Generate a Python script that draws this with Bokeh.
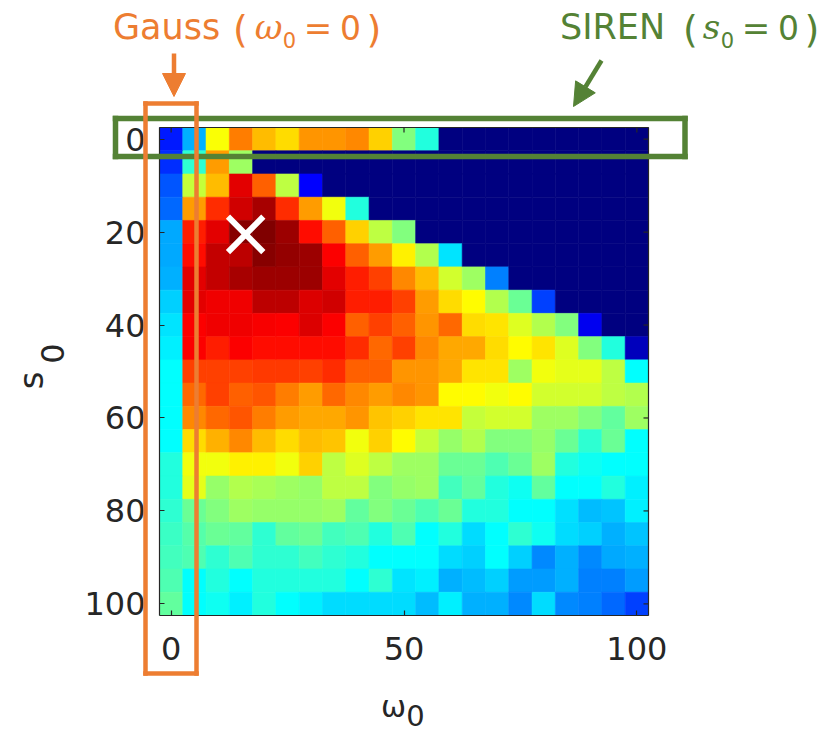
import math
from bokeh.plotting import figure
from bokeh.models import (Range1d, FixedTicker, LinearColorMapper, ColumnDataSource,
                          Label, Arrow, NormalHead, LinearAxis)
from bokeh.embed import file_html
from bokeh.resources import INLINE

# ---------------- data ----------------
omega0 = [0, 5, 10, 15, 20, 25, 30, 35, 40, 45, 50, 55, 60, 65, 70, 75, 80, 85, 90, 95, 100]
s0 = [0, 5, 10, 15, 20, 25, 30, 35, 40, 45, 50, 55, 60, 65, 70, 75, 80, 85, 90, 95, 100]

# normalised score per (s0 row, omega0 column)
acc_rows = [
    [0.15, 0.30, 0.62, 0.75, 0.69, 0.66, 0.73, 0.73, 0.74, 0.67, 0.50, 0.41, 0, 0, 0, 0, 0, 0, 0, 0, 0],
    [0.17, 0.42, 0.72, 0.53, 0, 0, 0, 0, 0, 0, 0, 0, 0, 0, 0, 0, 0, 0, 0, 0, 0],
    [0.21, 0.57, 0.69, 0.90, 0.78, 0.56, 0.125, 0, 0, 0, 0, 0, 0, 0, 0, 0, 0, 0, 0, 0, 0],
    [0.23, 0.72, 0.83, 0.92, 0.96, 0.83, 0.72, 0.61, 0.41, 0, 0, 0, 0, 0, 0, 0, 0, 0, 0, 0, 0],
    [0.29, 0.845, 0.90, 0.99, 1.00, 0.97, 0.86, 0.78, 0.67, 0.56, 0.50, 0, 0, 0, 0, 0, 0, 0, 0, 0, 0],
    [0.29, 0.86, 0.93, 0.94, 0.99, 0.98, 0.97, 0.875, 0.78, 0.72, 0.64, 0.55, 0.35, 0, 0, 0, 0, 0, 0, 0, 0],
    [0.30, 0.90, 0.93, 0.96, 0.97, 0.97, 0.97, 0.90, 0.845, 0.81, 0.74, 0.69, 0.58, 0.53, 0.25, 0, 0, 0, 0, 0, 0],
    [0.33, 0.90, 0.89, 0.89, 0.94, 0.94, 0.91, 0.92, 0.845, 0.845, 0.81, 0.72, 0.66, 0.625, 0.55, 0.48, 0.19, 0, 0, 0, 0],
    [0.35, 0.875, 0.89, 0.89, 0.88, 0.875, 0.91, 0.875, 0.78, 0.81, 0.78, 0.73, 0.77, 0.66, 0.65, 0.59, 0.55, 0.50, 0.11, 0, 0],
    [0.36, 0.875, 0.845, 0.875, 0.86, 0.86, 0.86, 0.86, 0.83, 0.77, 0.81, 0.74, 0.71, 0.71, 0.66, 0.625, 0.65, 0.59, 0.50, 0.41, 0.06],
    [0.375, 0.81, 0.81, 0.81, 0.82, 0.82, 0.81, 0.83, 0.78, 0.78, 0.73, 0.73, 0.71, 0.65, 0.65, 0.53, 0.61, 0.60, 0.60, 0.56, 0.375],
    [0.375, 0.77, 0.81, 0.78, 0.79, 0.75, 0.72, 0.77, 0.74, 0.72, 0.74, 0.73, 0.625, 0.625, 0.61, 0.625, 0.58, 0.58, 0.58, 0.56, 0.55],
    [0.375, 0.74, 0.77, 0.79, 0.75, 0.72, 0.71, 0.71, 0.73, 0.68, 0.67, 0.65, 0.65, 0.57, 0.58, 0.58, 0.53, 0.53, 0.50, 0.47, 0.53],
    [0.375, 0.66, 0.70, 0.74, 0.69, 0.66, 0.69, 0.68, 0.61, 0.67, 0.625, 0.57, 0.52, 0.55, 0.50, 0.50, 0.52, 0.48, 0.42, 0.48, 0.375],
    [0.41, 0.61, 0.61, 0.64, 0.64, 0.61, 0.67, 0.56, 0.59, 0.56, 0.53, 0.53, 0.48, 0.48, 0.45, 0.48, 0.53, 0.41, 0.39, 0.375, 0.375],
    [0.41, 0.60, 0.52, 0.55, 0.54, 0.53, 0.52, 0.56, 0.56, 0.50, 0.52, 0.53, 0.44, 0.47, 0.41, 0.39, 0.47, 0.375, 0.375, 0.41, 0.36],
    [0.42, 0.48, 0.50, 0.53, 0.52, 0.52, 0.52, 0.53, 0.47, 0.50, 0.48, 0.45, 0.48, 0.41, 0.41, 0.375, 0.375, 0.345, 0.31, 0.32, 0.36],
    [0.43, 0.46, 0.48, 0.47, 0.42, 0.47, 0.48, 0.44, 0.45, 0.41, 0.45, 0.375, 0.41, 0.34, 0.375, 0.42, 0.39, 0.34, 0.33, 0.30, 0.32],
    [0.44, 0.45, 0.42, 0.45, 0.42, 0.42, 0.44, 0.42, 0.41, 0.375, 0.375, 0.375, 0.34, 0.33, 0.375, 0.33, 0.26, 0.30, 0.26, 0.29, 0.30],
    [0.45, 0.375, 0.41, 0.375, 0.41, 0.41, 0.41, 0.41, 0.375, 0.42, 0.35, 0.36, 0.30, 0.31, 0.33, 0.28, 0.28, 0.30, 0.25, 0.25, 0.28],
    [0.47, 0.375, 0.39, 0.36, 0.41, 0.375, 0.36, 0.34, 0.34, 0.34, 0.34, 0.31, 0.36, 0.30, 0.30, 0.26, 0.34, 0.26, 0.25, 0.23, 0.19],
]

x_ticks = [0, 50, 100]
y_ticks = [0, 20, 40, 60, 80, 100]

best_omega0 = [16]
best_s0 = [20.5]

ORANGE = "#ED7D31"
GREEN = "#548235"
DARK = "#262626"


# ---------------- jet colormap ----------------
def jet_hex(t):
    r = min(max(1.5 - abs(4 * t - 3), 0.0), 1.0)
    g = min(max(1.5 - abs(4 * t - 2), 0.0), 1.0)
    b = min(max(1.5 - abs(4 * t - 1), 0.0), 1.0)
    return "#%02x%02x%02x" % (round(r * 255), round(g * 255), round(b * 255))


palette = [jet_hex(i / 255) for i in range(256)]
mapper = LinearColorMapper(palette=palette, low=0, high=1)

xs, ys, vs = [], [], []
for ri, row in enumerate(acc_rows):
    for ci, v in enumerate(row):
        xs.append(omega0[ci])
        ys.append(s0[ri])
        vs.append(v)
src = ColumnDataSource(dict(x=xs, y=ys, v=vs))

# ---------------- layout: heatmap box placed inside a full-canvas frame ----------------
W, H = 830, 733
FL, FT, FW, FH = 159, 127, 489, 488          # pixel box of the heatmap
step = omega0[1] - omega0[0]
x0, x1 = omega0[0] - step / 2, omega0[-1] + step / 2
y0, y1 = s0[0] - step / 2, s0[-1] + step / 2


def X(px):
    return x0 + (px - FL) * (x1 - x0) / FW


def Y(py):
    return y0 + (py - FT) * (y1 - y0) / FH


p = figure(width=W, height=H, min_border=0,
           x_range=Range1d(X(0), X(W)), y_range=Range1d(Y(H), Y(0)),
           x_axis_type=None, y_axis_type=None,
           output_backend="svg", toolbar_location=None)
p.background_fill_color = "white"
p.border_fill_color = "white"
p.outline_line_color = None
p.grid.visible = False

p.rect(x="x", y="y", width=step, height=step, source=src,
       fill_color={"field": "v", "transform": mapper},
       line_color={"field": "v", "transform": mapper}, line_width=0.6)

# axes pinned to the heatmap edges
xaxis = LinearAxis(fixed_location=y1, bounds=(x0, x1), ticker=FixedTicker(ticks=x_ticks))
yaxis = LinearAxis(fixed_location=x0, bounds=(y0, y1), ticker=FixedTicker(ticks=y_ticks))
p.add_layout(xaxis, "below")
p.add_layout(yaxis, "left")
for ax in (xaxis, yaxis):
    ax.major_label_text_font = "DejaVu Sans"
    ax.major_label_text_font_size = "32px"
    ax.major_label_text_color = DARK
    ax.major_tick_in = 5
    ax.major_tick_out = 0
    ax.major_tick_line_color = DARK
    ax.major_tick_line_width = 1.2
    ax.minor_tick_line_color = None
    ax.axis_line_color = DARK
    ax.axis_line_width = 1.2
xaxis.major_label_standoff = 21
yaxis.major_label_standoff = 14

# top and right box edges with inward ticks
tick_len_y = 5 * (y1 - y0) / FH
tick_len_x = 5 * (x1 - x0) / FW
p.segment(x0=[x0, x1], y0=[y0, y0], x1=[x1, x1], y1=[y0, y1], line_color=DARK, line_width=1.2)
p.segment(x0=x_ticks, y0=[y0] * len(x_ticks), x1=x_ticks, y1=[y0 + tick_len_y] * len(x_ticks),
          line_color=DARK, line_width=1.2)
p.segment(x0=[x1] * len(y_ticks), y0=y_ticks, x1=[x1 - tick_len_x] * len(y_ticks), y1=y_ticks,
          line_color=DARK, line_width=1.2)

# best point marker
p.scatter(x=best_omega0, y=best_s0, marker="x", size=50, line_color="white", line_width=6)


# ---------------- annotations (pixel positions -> data) ----------------
MID = 0.346   # distance from baseline to the middle of the font box, in em


def lab(text, cx, by, size, color, font="DejaVu Sans", style="normal", align="center", angle=0.0):
    # (cx, by): horizontal anchor and baseline in pixels; convert to the middle of the text box
    off = MID * size
    px = cx - off * math.sin(angle)
    py = by - off * math.cos(angle)
    p.add_layout(Label(x=X(px), y=Y(py), text=text, text_font=font, text_font_size=f"{size}px",
                       text_font_style=style, text_color=color, text_align=align,
                       text_baseline="middle", angle=angle))


def seg(xa, ya, xb, yb, color, width, head=None, cap="square"):
    p.add_layout(Arrow(x_start=X(xa), y_start=Y(ya), x_end=X(xb), y_end=Y(yb),
                       start=None, end=head, line_color=color, line_width=width,
                       line_cap=cap))


# Gauss title
lab("Gauss", 112.5, 38.3, 35, ORANGE, align="left")
lab("(", 240, 42, 38, ORANGE)
lab("ω", 268, 38.3, 34, ORANGE, font="DejaVu Serif", style="italic")
lab("0", 289, 47, 21, ORANGE)
lab("=", 317.5, 39.5, 34, ORANGE)
lab("0", 350, 38.5, 33, ORANGE)
lab(")", 373.5, 42, 38, ORANGE)

# SIREN title
lab("SIREN", 612, 38.3, 35, GREEN)
lab("(", 690, 42, 38, GREEN)
lab("s", 711, 38.3, 34, GREEN, font="DejaVu Serif", style="italic")
lab("0", 727, 47, 21, GREEN)
lab("=", 755.5, 39.5, 34, GREEN)
lab("0", 788, 38.5, 33, GREEN)
lab(")", 811.5, 42, 38, GREEN)

# axis titles
lab("ω", 393, 716, 30, DARK)
lab("0", 415, 725, 29, DARK)
lab("s", 42, 380, 34, DARK, angle=math.pi / 2)
lab("0", 63, 353, 32, DARK, angle=math.pi / 2)

# green box (SIREN row)
gl, gr, gt, gb = 115, 684.5, 118, 156
seg(gl, gt, gr, gt, GREEN, 5.5)
seg(gr, gt, gr, gb, GREEN, 5.5)
seg(gr, gb, gl, gb, GREEN, 5.5)
seg(gl, gb, gl, gt, GREEN, 5.5)

# orange box (Gauss column)
ol, orr, ot, ob = 145, 196, 103, 673
seg(ol, ot, orr, ot, ORANGE, 4.5)
seg(orr, ot, orr, ob, ORANGE, 4.5)
seg(orr, ob, ol, ob, ORANGE, 4.5)
seg(ol, ob, ol, ot, ORANGE, 4.5)

# arrows
seg(173.5, 53, 173.5, 96, ORANGE, 4.5, cap="butt",
    head=NormalHead(size=23, fill_color=ORANGE, line_color=ORANGE, line_width=1))
seg(601, 60, 573, 106, GREEN, 4.5, cap="butt",
    head=NormalHead(size=23, fill_color=GREEN, line_color=GREEN, line_width=1))

open("out.html", "w").write(file_html(p, INLINE))
